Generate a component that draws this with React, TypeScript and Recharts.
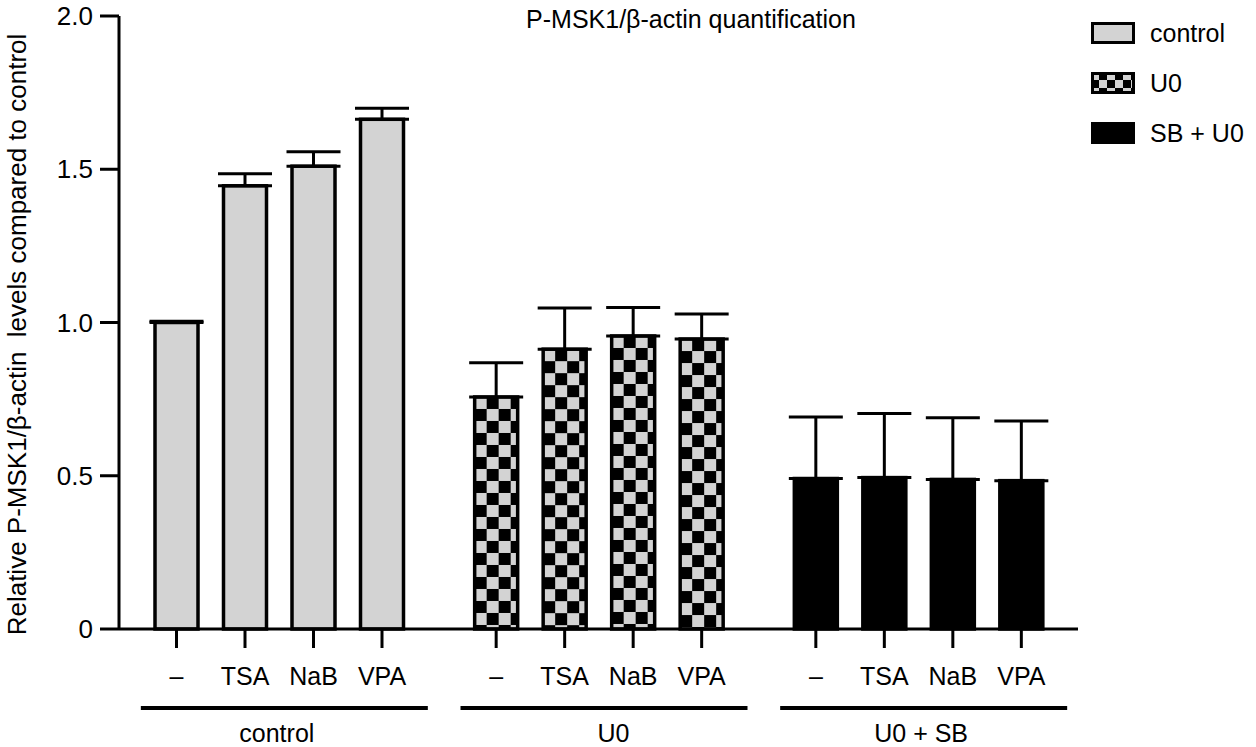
import { BarChart, Bar, XAxis, YAxis, ErrorBar, Legend, Label } from "recharts";

const groups = ["control", "U0", "U0 + SB"];
const legendLabels = ["control", "U0", "SB + U0"];
const treatmentKeys = ["none", "TSA", "NaB", "VPA"];
const treatmentLabels = ["–", "TSA", "NaB", "VPA"];

// means per group (control, U0, U0 + SB)
const noneMeans = [1.0, 0.757, 0.491];
const tsaMeans = [1.446, 0.913, 0.494];
const nabMeans = [1.51, 0.956, 0.488];
const vpaMeans = [1.663, 0.946, 0.484];

// upper error (SEM)
const noneSem = [0.004, 0.112, 0.201];
const tsaSem = [0.039, 0.134, 0.209];
const nabSem = [0.047, 0.093, 0.201];
const vpaSem = [0.036, 0.082, 0.195];

const yTicks = [0, 0.5, 1, 1.5, 2];

const GRAY = "#d3d3d3";
const FONT = "'Liberation Sans', Arial, Helvetica, sans-serif";

const meanLists = [noneMeans, tsaMeans, nabMeans, vpaMeans];
const semLists = [noneSem, tsaSem, nabSem, vpaSem];

const data = groups.map((group, i) => {
  const row: Record<string, any> = { group };
  treatmentKeys.forEach((key, k) => {
    row[key] = meanLists[k][i];
    row[key + "Err"] = [0, semLists[k][i]];
  });
  return row;
});

function makeBarShape(seriesIdx: number) {
  return (props: any) => {
    const { x, y, width, height, index } = props;
    const pid = `chk-${seriesIdx}-${index}`;
    const fill = index === 0 ? GRAY : index === 1 ? `url(#${pid})` : "#000";
    const cx = x + width / 2;
    const base = y + height;
    return (
      <g>
        {index === 1 && (
          <defs>
            <pattern id={pid} patternUnits="userSpaceOnUse" x={x} y={y} width={24} height={24}>
              <rect width={24} height={24} fill={GRAY} />
              <rect x={12} y={0} width={12} height={12} fill="#000" />
              <rect x={0} y={12} width={12} height={12} fill="#000" />
            </pattern>
          </defs>
        )}
        <rect x={x} y={y} width={width} height={height} fill={fill} stroke="#000" strokeWidth={3.5} />
        <line x1={cx} x2={cx} y1={base} y2={base + 19} stroke="#000" strokeWidth={3} />
        <text x={cx} y={base + 56} textAnchor="middle" fontSize={25} fill="#000">
          {treatmentLabels[seriesIdx]}
        </text>
      </g>
    );
  };
}

const groupLabelDx = [-2, 15, 3];

const GroupTick = (props: any) => {
  const { x, y, payload, index } = props;
  return (
    <g>
      <line x1={x - 138} x2={x + 149} y1={y + 79} y2={y + 79} stroke="#000" strokeWidth={4} />
      <text x={x + groupLabelDx[index]} y={y + 113} textAnchor="middle" fontSize={25} fill="#000">
        {payload.value}
      </text>
    </g>
  );
};

const YLabel = (props: any) => {
  const { viewBox } = props;
  const cx = viewBox.x + 17;
  const cy = viewBox.y + viewBox.height / 2 + 12;
  return (
    <text
      x={cx}
      y={cy}
      transform={`rotate(-90, ${cx}, ${cy})`}
      textAnchor="middle"
      dominantBaseline="central"
      fontSize={26}
      fill="#000"
      style={{ whiteSpace: "pre" }}
    >
      {"Relative P-MSK1/β-actin  levels compared to control"}
    </text>
  );
};

function Swatch({ kind }: { kind: number }) {
  const id = `legend-chk-${kind}`;
  const fill = kind === 0 ? GRAY : kind === 1 ? `url(#${id})` : "#000";
  return (
    <svg width={44} height={22} style={{ display: "block" }}>
      {kind === 1 && (
        <defs>
          <pattern id={id} patternUnits="userSpaceOnUse" width={16} height={16}>
            <rect width={16} height={16} fill={GRAY} />
            <rect x={8} y={0} width={8} height={8} fill="#000" />
            <rect x={0} y={8} width={8} height={8} fill="#000" />
          </pattern>
        </defs>
      )}
      <rect x={1.5} y={1.5} width={41} height={19} fill={fill} stroke="#000" strokeWidth={3} />
    </svg>
  );
}

const renderLegend = () => (
  <div style={{ fontFamily: FONT }}>
    {legendLabels.map((label, i) => (
      <div key={label} style={{ display: "flex", alignItems: "center", height: 50 }}>
        <Swatch kind={i} />
        <span style={{ marginLeft: 15, fontSize: 25, color: "#000" }}>{label}</span>
      </div>
    ))}
  </div>
);

export default function App() {
  return (
    <div style={{ position: "absolute", left: 0, top: 0, width: 1256, height: 747, fontFamily: FONT, background: "#fff" }}>
      <div
        style={{
          position: "absolute",
          left: 691,
          top: 5,
          transform: "translateX(-50%)",
          whiteSpace: "nowrap",
          fontSize: 25,
          color: "#000",
        }}
      >
        P-MSK1/β-actin quantification
      </div>
      <BarChart
        width={1256}
        height={747}
        data={data}
        margin={{ top: 16, right: 178, left: 0, bottom: 0 }}
        barSize={43}
        barGap={25.5}
      >
        <XAxis
          dataKey="group"
          height={118}
          tickSize={0}
          tickMargin={0}
          tickLine={false}
          axisLine={{ stroke: "#000", strokeWidth: 3 }}
          tick={<GroupTick />}
          interval={0}
        />
        <YAxis
          width={119}
          domain={[0, 2]}
          ticks={yTicks}
          interval={0}
          tickSize={19}
          tickMargin={7}
          axisLine={{ stroke: "#000", strokeWidth: 3 }}
          tickLine={{ stroke: "#000", strokeWidth: 3 }}
          tick={{ fill: "#000", fontSize: 26 }}
          tickFormatter={(v: number) => (v === 0 ? "0" : v.toFixed(1))}
        >
          <Label content={<YLabel />} />
        </YAxis>
        <Legend
          layout="vertical"
          align="center"
          verticalAlign="middle"
          content={renderLegend}
          wrapperStyle={{ left: 1091, top: 8, width: 165 }}
        />
        {treatmentKeys.map((key, k) => (
          <Bar key={key} dataKey={key} isAnimationActive={false} shape={makeBarShape(k)}>
            <ErrorBar dataKey={key + "Err"} width={27} strokeWidth={3} stroke="#000" direction="y" />
          </Bar>
        ))}
      </BarChart>
    </div>
  );
}
